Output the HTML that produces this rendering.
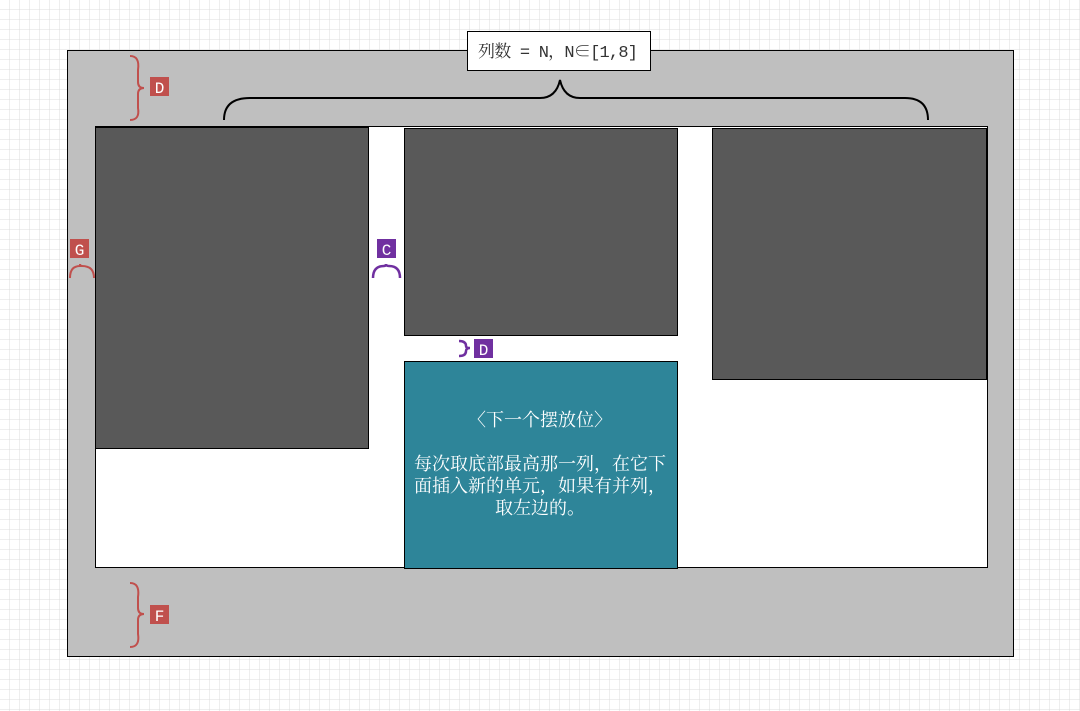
<!DOCTYPE html>
<html><head><meta charset="utf-8"><style>
html,body{margin:0;padding:0;background:#fff;}
svg{display:block;}
text{font-family:"Liberation Serif","Noto Serif CJK SC",serif;}
.m{font-family:"Liberation Mono","Noto Serif CJK SC",monospace;}
</style></head><body>
<svg width="1080" height="711" viewBox="0 0 1080 711" xmlns="http://www.w3.org/2000/svg">
<defs>
<pattern id="g" width="10" height="10" patternUnits="userSpaceOnUse">
<path d="M10 0V10M0 10H10" stroke="#dcdcdc" stroke-width="1" fill="none"/>
</pattern>
</defs>
<rect width="1080" height="711" fill="#fff"/>
<rect width="1080" height="711" fill="url(#g)"/>
<rect x="67.5" y="50.5" width="946" height="606" fill="#bfbfbf" stroke="#000"/>
<rect x="95.5" y="126.5" width="892" height="441" fill="#fff" stroke="#000"/>
<rect x="95.5" y="127.5" width="273" height="321" fill="#595959" stroke="#000"/>
<rect x="404.5" y="128.5" width="273" height="207" fill="#595959" stroke="#000"/>
<rect x="712.5" y="128.5" width="274" height="251" fill="#595959" stroke="#000"/>
<rect x="404.5" y="361.5" width="273" height="207" fill="#2e8599" stroke="#000"/>
<text x="540" y="426" font-size="18" fill="#fff" text-anchor="middle">〈下一个摆放位〉</text>
<text x="540" y="470" font-size="18" fill="#fff" text-anchor="middle" textLength="252">每次取底部最高那一列，在它下</text>
<text x="540" y="492" font-size="18" fill="#fff" text-anchor="middle" textLength="252">面插入新的单元，如果有并列，</text>
<text x="540" y="514" font-size="18" fill="#fff" text-anchor="middle">取左边的。</text>
<path d="M224 120 Q224 98 250 98 L540 98 Q556 98 560 80 Q564 98 580 98 L905 98 Q928 98 928 120" fill="none" stroke="#000" stroke-width="2"/>
<rect x="467.5" y="31.5" width="183" height="39" fill="#fff" stroke="#000"/>
<text x="558" y="57" font-size="17" fill="#333" text-anchor="middle" class="m" textLength="160">列数 = N，N∈[1,8]</text>
<path d="M130 56 Q140 56 138 70 L138 82 Q138 88 144 88 Q138 88 138 94 L138 108 Q140 120 130 120" fill="none" stroke="#c0504d" stroke-width="2"/>
<rect x="150" y="77" width="19" height="19" fill="#c0504d"/>
<text x="159.5" y="93" font-size="16" fill="#fff" text-anchor="middle" class="m">D</text>
<rect x="70" y="239" width="19" height="19" fill="#c0504d"/>
<text x="79.5" y="255" font-size="16" fill="#fff" text-anchor="middle" class="m">G</text>
<path d="M70 278 Q70 266 80 266 Q80 266 80 264 Q80 266 82 266 Q94 266 94 278" fill="none" stroke="#c0504d" stroke-width="2"/>
<rect x="377" y="239" width="19" height="19" fill="#7030a0"/>
<text x="386.5" y="255" font-size="16" fill="#fff" text-anchor="middle" class="m">C</text>
<path d="M373 278 Q373 266 384 266 Q386 266 386 264 Q386 266 389 266 Q400 266 400 278" fill="none" stroke="#7030a0" stroke-width="2.5"/>
<path d="M459 341 Q466 341 466 346 Q466 348 470 348 Q466 348 466 351 Q466 356 459 356" fill="none" stroke="#7030a0" stroke-width="2.5"/>
<rect x="474" y="339" width="19" height="19" fill="#7030a0"/>
<text x="483.5" y="355" font-size="16" fill="#fff" text-anchor="middle" class="m">D</text>
<path d="M130 583 Q140 583 138 597 L138 608 Q138 614 144 614 Q138 614 138 620 L138 634 Q140 647 130 647" fill="none" stroke="#c0504d" stroke-width="2"/>
<rect x="150" y="605" width="19" height="19" fill="#c0504d"/>
<text x="159.5" y="621" font-size="16" fill="#fff" text-anchor="middle" class="m">F</text>
</svg>
</body></html>
